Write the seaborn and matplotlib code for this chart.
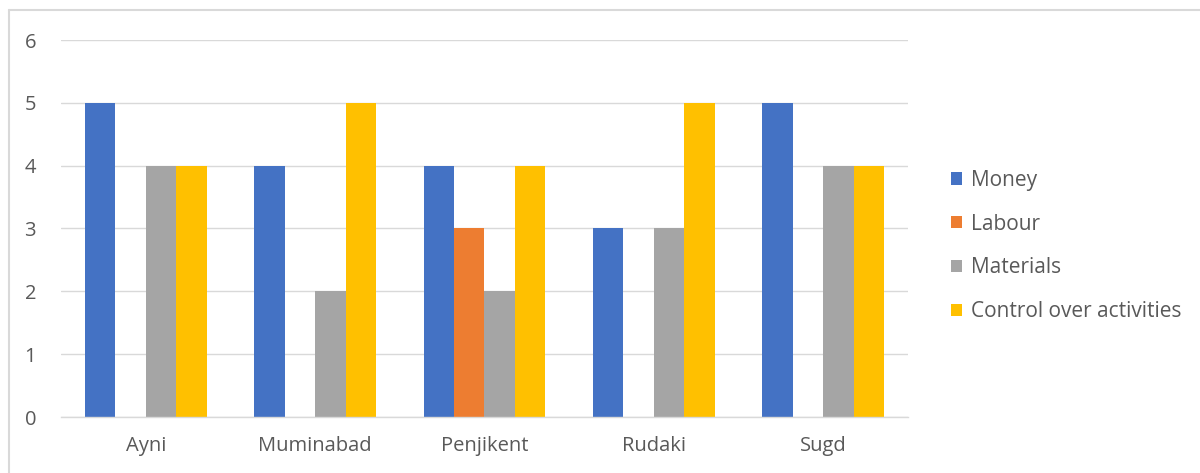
import matplotlib
matplotlib.use("Agg")
import matplotlib.pyplot as plt
from matplotlib.patches import Patch
from matplotlib.lines import Line2D
import seaborn as sns
import pandas as pd

districts = ["Ayni", "Muminabad", "Penjikent", "Rudaki", "Sugd"]
resources = ["Money", "Labour", "Materials", "Control over activities"]
money = [5, 4, 4, 3, 5]
labour = [0, 0, 3, 0, 0]
materials = [4, 2, 2, 3, 4]
control = [4, 5, 4, 5, 4]
y_ticks = [0, 1, 2, 3, 4, 5, 6]

colors = ["#4472C4", "#ED7D31", "#A5A5A5", "#FFC000"]
text_color = "#595959"
grid_color = "#D9D9D9"

rows = []
for name, vals in zip(resources, [money, labour, materials, control]):
    for d, v in zip(districts, vals):
        rows.append({"District": d, "Resource": name, "Value": v})
df = pd.DataFrame(rows)

sns.set_theme(style="white")
plt.rcParams["font.family"] = ["Open Sans", "DejaVu Sans"]

fig = plt.figure(figsize=(12, 4.73), dpi=100)
ax = fig.add_axes([61 / 1200, 1 - 417 / 473, 847 / 1200, 377 / 473])

sns.barplot(data=df, x="District", y="Value", hue="Resource",
            order=districts, hue_order=resources, palette=colors,
            width=0.72, saturation=1, linewidth=0, ax=ax, legend=False)

ax.set_ylim(0, 6)
ax.set_yticks(y_ticks)
ax.set_xlim(-0.5, len(districts) - 0.5)
ax.set_xlabel("")
ax.set_ylabel("")
ax.yaxis.grid(True, color=grid_color, linewidth=1)
ax.set_axisbelow(True)
for side in ["top", "right", "left"]:
    ax.spines[side].set_visible(False)
ax.spines["bottom"].set_color(grid_color)
ax.spines["bottom"].set_linewidth(1)
ax.tick_params(axis="both", length=0, colors=text_color, labelsize=14.5)
ax.tick_params(axis="y", pad=18)
ax.tick_params(axis="x", pad=14)

handles = [Patch(facecolor=c, edgecolor="none") for c in colors]
fig.legend(handles, resources, loc="center left",
           bbox_to_anchor=(932 / 1200, 1 - 246 / 473), frameon=False,
           fontsize=15, labelcolor=text_color, handlelength=0.55,
           handleheight=0.55, handletextpad=0.4, labelspacing=1.1)

# chart frame
fig.add_artist(Line2D([8.5 / 1200, 1], [1 - 10.5 / 473, 1 - 10.5 / 473],
                      transform=fig.transFigure, color=grid_color, lw=1.5))
fig.add_artist(Line2D([8.5 / 1200, 8.5 / 1200], [0, 1 - 10.5 / 473],
                      transform=fig.transFigure, color=grid_color, lw=1.5))

fig.savefig("out.png", dpi=100, facecolor="white")
